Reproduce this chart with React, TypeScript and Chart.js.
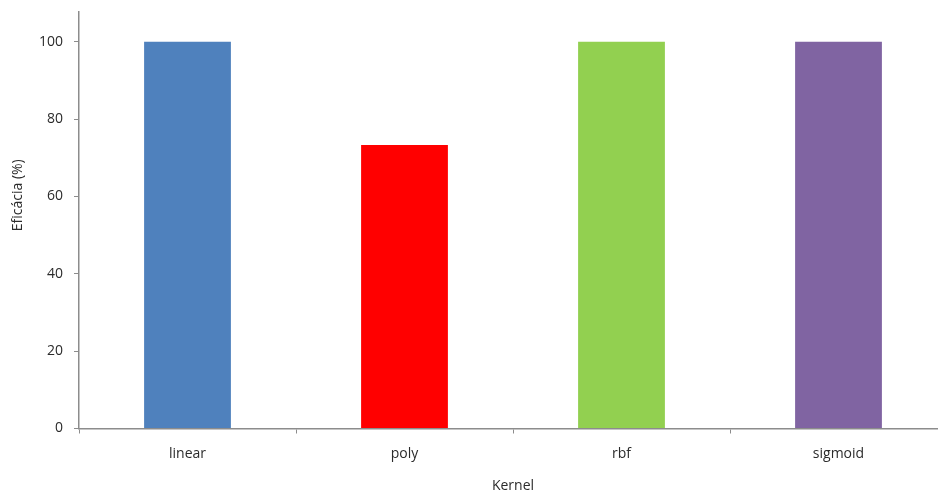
import React, { useEffect, useRef } from "react";
import { Chart, registerables } from "chart.js";

Chart.register(...registerables);

const kernels = ["linear", "poly", "rbf", "sigmoid"];
const efficacy = [100, 73.3, 100, 100];
const barColors = ["#4F81BD", "#FF0000", "#92D050", "#8064A2"];
const yTicks = [0, 20, 40, 60, 80, 100];
const yTitle = "Eficácia (%)";
const xTitle = "Kernel";

const FONT = "'Open Sans', 'Liberation Sans', sans-serif";
const TEXT = "#2b2b2b";
const AXIS = "#8c8c8c";

// Rotated y-axis title, placed a little above the middle of the axis.
const yTitlePlugin = {
  id: "yTitle",
  afterDraw(chart: any) {
    const { ctx, chartArea } = chart;
    ctx.save();
    ctx.font = `14px ${FONT}`;
    ctx.fillStyle = TEXT;
    ctx.textAlign = "center";
    ctx.textBaseline = "middle";
    ctx.translate(18, chartArea.top + (chartArea.bottom - chartArea.top) * 0.44);
    ctx.rotate(-Math.PI / 2);
    ctx.fillText(yTitle, 0, 0);
    ctx.restore();
  },
};

export default function App() {
  const canvasRef = useRef<HTMLCanvasElement | null>(null);

  useEffect(() => {
    if (!canvasRef.current) return;
    const chart = new Chart(canvasRef.current, {
      type: "bar",
      data: {
        labels: kernels,
        datasets: [
          {
            label: yTitle,
            data: efficacy,
            backgroundColor: barColors,
            borderWidth: 0,
            barPercentage: 0.4,
            categoryPercentage: 1,
          },
        ],
      },
      plugins: [yTitlePlugin],
      options: {
        animation: false,
        responsive: false,
        maintainAspectRatio: false,
        layout: { padding: { top: 12, right: 13, bottom: 0, left: 0 } },
        plugins: { legend: { display: false }, tooltip: { enabled: false } },
        scales: {
          x: {
            offset: true,
            grid: {
              offset: true,
              drawOnChartArea: false,
              drawTicks: true,
              tickLength: 5,
              color: AXIS,
            },
            border: { display: true, color: AXIS, width: 1.5 },
            ticks: { color: TEXT, font: { family: FONT, size: 14 }, padding: 12, maxRotation: 0 },
            title: {
              display: true,
              text: xTitle,
              color: TEXT,
              font: { family: FONT, size: 14, lineHeight: 1 },
              padding: 0,
            },
            afterFit: (scale: any) => {
              scale.height = 64.5;
              scale.paddingLeft = 0;
              scale.paddingRight = 0;
            },
          },
          y: {
            min: 0,
            max: 107.7,
            grid: {
              drawOnChartArea: false,
              drawTicks: true,
              tickLength: 5,
              color: AXIS,
            },
            border: { display: true, color: AXIS, width: 1.5 },
            ticks: {
              stepSize: 20,
              color: TEXT,
              font: { family: FONT, size: 14 },
              padding: 11,
            },
            afterBuildTicks: (scale: any) => {
              scale.ticks = yTicks.map((v) => ({ value: v }));
            },
            title: { display: false },
            afterFit: (scale: any) => {
              scale.width = 79;
              scale.paddingTop = 0;
              scale.paddingBottom = 0;
            },
          },
        },
      },
    });
    return () => chart.destroy();
  }, []);

  return (
    <div
      style={{
        position: "fixed",
        left: 0,
        top: 0,
        width: 938,
        height: 493,
        overflow: "hidden",
        background: "#ffffff",
      }}
    >
      <canvas ref={canvasRef} width={960} height={493} style={{ display: "block" }} />
    </div>
  );
}
